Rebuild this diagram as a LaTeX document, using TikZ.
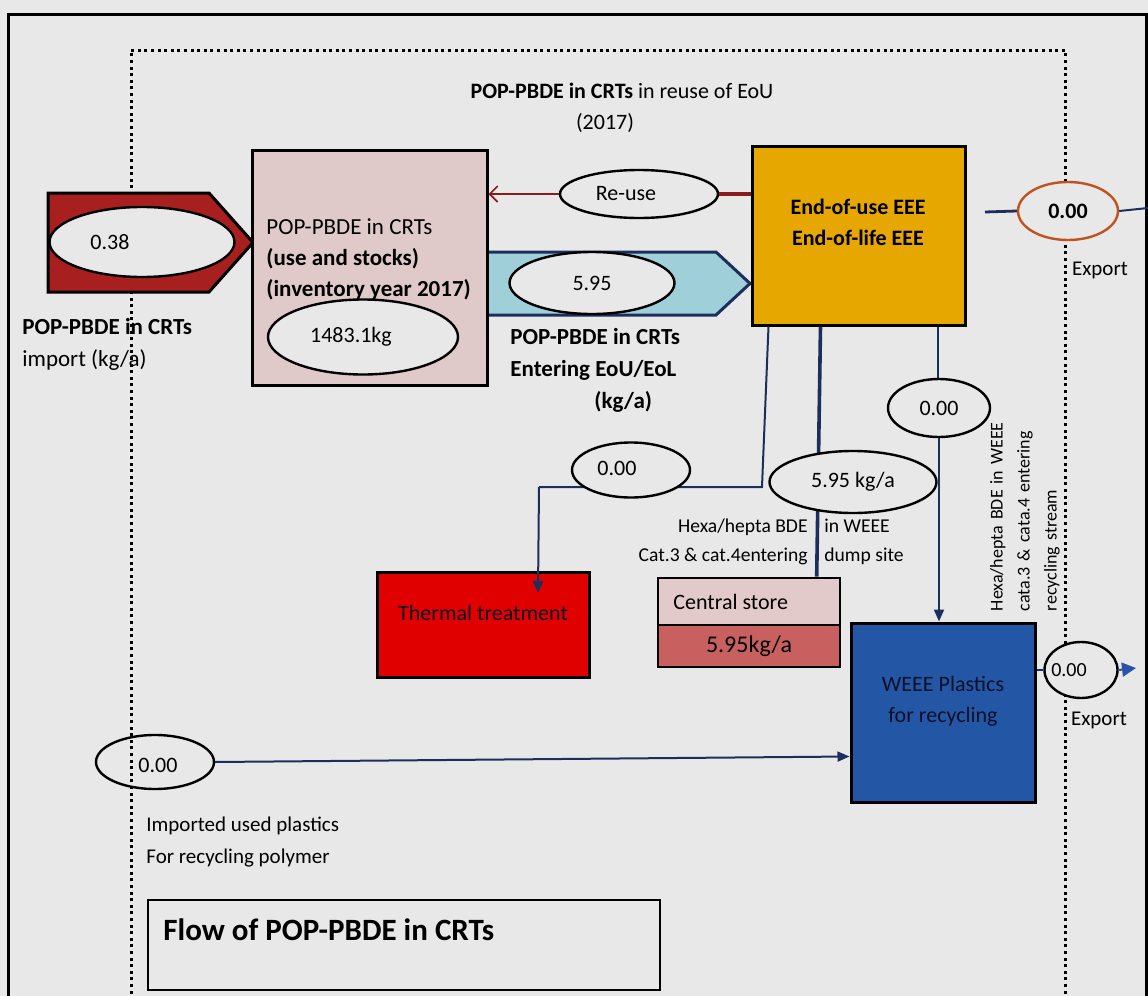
\documentclass[tikz,border=0pt]{standalone}
\usepackage{fontspec}
\setmainfont{Carlito}
\usetikzlibrary{shapes.geometric,arrows.meta,calc}

\definecolor{bggray}{HTML}{E8E8E8}
\definecolor{importred}{HTML}{A81F1F}
\definecolor{stockpink}{HTML}{DFC9C9}
\definecolor{entercyan}{HTML}{9FD0DA}
\definecolor{navy}{HTML}{1C2F5C}
\definecolor{inkdark}{HTML}{0A1028}
\definecolor{eouorange}{HTML}{E6A700}
\definecolor{exportrim}{HTML}{C0521E}
\definecolor{thermred}{HTML}{E10000}
\definecolor{storepink}{HTML}{E2CACA}
\definecolor{storered}{HTML}{C96060}
\definecolor{weeeblue}{HTML}{2456A6}
\definecolor{reusered}{HTML}{8A1C1C}
\definecolor{tipblue}{HTML}{2A52A8}

\tikzset{
  box/.style={draw=black, line width=1.5pt, inner sep=0pt},
  valell/.style={ellipse, draw=black, line width=1.2pt, fill=bggray, inner sep=0pt, font=\fontsize{11}{13}\selectfont},
  lbl/.style={inner sep=0pt, font=\fontsize{11}{15.5}\selectfont},
  smalllbl/.style={inner sep=0pt, font=\fontsize{9.8}{14.5}\selectfont},
  flowline/.style={navy, line width=1pt},
  flowarrow/.style={flowline, -{Triangle[length=6pt,width=5pt]}},
}

\begin{document}
\begin{tikzpicture}[x=0.5pt, y=-0.5pt]
    % page and frames
    \fill[bggray] (0,0) rectangle (1148,996);
    \clip (0,0) rectangle (1148,996);
    \draw[line width=1.5pt] (8,1020) -- (8,14) -- (1146,14) -- (1146,1020);
    \draw[line width=1.5pt, dash pattern=on 1.5pt off 1.8pt] (131,1020) -- (131,50) -- (1065,50) -- (1065,1020);

    % imported plastics (dotted frame shows through)
    \node[ellipse, draw=black, line width=1.2pt, minimum width=59pt, minimum height=27pt, inner sep=0pt] (impplast) at (155,762) {};
    \node[lbl] (impplasttxt) at (158,765) {0.00};
    \node[lbl, anchor=west, align=left, font=\fontsize{10.5}{16}\selectfont] (impplastlbl) at (146,842) {Imported used plastics\\For recycling polymer};

    \node[lbl, align=center] (reusetitle) at (622,108) {\textbf{POP-PBDE in CRTs} in reuse of EoU\\(2017)\hspace*{17pt}};

    % import
    \filldraw[fill=importred, draw=black, line width=1.5pt, line join=miter]
        (48,193) -- (209,193) -- (253,242.5) -- (209,292) -- (48,292) -- cycle;
    \node[valell, minimum width=92.5pt, minimum height=35pt] (importval) at (142,242) {};
    \node[lbl] (importtxt) at (110,242) {0.38};
    \node[lbl, anchor=west, align=left, font=\fontsize{11.5}{16}\selectfont] (importlbl) at (22,344) {\textbf{POP-PBDE in CRTs}\\import (kg/a)};

    % entering EoU/EoL
    \filldraw[fill=entercyan, draw=navy, line width=1.5pt, line join=miter]
        (480,252) -- (716,252) -- (750,283.5) -- (716,315) -- (480,315) -- cycle;

    % use and stocks
    \node[box, fill=stockpink, minimum width=117.5pt, minimum height=117.5pt] (stock) at (369.5,267.5) {};
    \node[lbl, anchor=west, align=left, font=\fontsize{11.5}{15.5}\selectfont] (stocktxt) at (266,259) {POP-PBDE in CRTs\\\textbf{(use and stocks)}\\\textbf{(inventory year 2017)}};
    \node[valell, minimum width=95pt, minimum height=37.5pt] (stockval) at (363,337) {1483.1kg\hspace*{12pt}};

    \node[valell, minimum width=82.5pt, minimum height=31pt] (enterval) at (592,283) {5.95};
    \node[lbl, anchor=west, align=left, font=\bfseries\fontsize{11.5}{16}\selectfont] (enterlbl) at (510,370) {POP-PBDE in CRTs\\Entering EoU/EoL\\\hspace*{42pt}(kg/a)};

    % end of use / end of life
    \node[box, fill=eouorange, minimum width=106.5pt, minimum height=89.5pt] (eou) at (858.5,235.5) {};
    \node[lbl, align=center, font=\bfseries\fontsize{11}{15.5}\selectfont] (eoutxt) at (858,222) {End-of-use EEE\\End-of-life EEE};

    % re-use
    \node[valell, minimum width=79pt, minimum height=24pt] (reuse) at (639,194) {};
    \node[lbl] (reusetxt) at (626,194) {Re-use};
    \draw[reusered, line width=1.6pt] (eou.west |- reuse.east) -- (reuse.east);
    \draw[reusered, line width=0.8pt, -{Straight Barb[length=4pt,width=8pt]}] (reuse.west) -- (stock.east |- reuse.west);

    % export of EoU/EoL
    \coordinate (exptopstart) at (985,212);
    \coordinate (exptopend) at (1148,208);
    \node[valell, draw=exportrim, minimum width=50pt, minimum height=29pt] (exporttop) at (1068,211) {\textbf{0.00}};
    \draw[flowline, line width=1.4pt] (exptopstart) -- (exporttop.west);
    \draw[flowline] (exporttop.east) -- (exptopend);
    \node[lbl, font=\fontsize{10.5}{14}\selectfont] (exporttoplbl) at (1100,270) {Export};

    % thermal treatment and central store
    \node[box, fill=thermred, minimum width=106pt, minimum height=52.5pt] (thermal) at (483,624.5) {};
    \node[lbl, text=inkdark] (thermaltxt) at (483,613) {Thermal treatment};
    \node[box, fill=storepink, line width=1.3pt, minimum width=91pt, minimum height=23.5pt] (store) at (749,601.5) {};
    \node[lbl, anchor=west] (storetxt) at (673,602) {Central store};
    \node[box, fill=storered, line width=1.3pt, minimum width=91pt, minimum height=21pt, font=\fontsize{12}{14}\selectfont] (storeval) at (749,646) {5.95kg/a};

    % WEEE plastics
    \node[box, fill=weeeblue, minimum width=92pt, minimum height=89.5pt] (weee) at (943,712.5) {};
    \node[lbl, align=center, text=inkdark] (weeetxt) at (943,701) {WEEE Plastics\\for recycling};

    % flows out of EoU/EoL (under the value ellipses)
    \coordinate (tbend) at (762,487);
    \coordinate (tcorner) at (539,487);
    \draw[flowline] ($(eou.south west)+(18,0)$) -- (tbend) -- (tcorner);
    \draw[flowarrow] (tcorner) -- ++(-1,106);
    \draw[flowline, line width=1.8pt] ($(eou.south west)+(70,0)$) -- ($(store.north west)+(160,0)$);
    \draw[flowline] ($(eou.south west)+(187,0)$) -- ++(0,80);

    \node[valell, minimum width=59pt, minimum height=27.5pt] (thermval) at (631,470) {};
    \node[lbl] (thermvaltxt) at (617,468) {0.00};
    \node[valell, minimum width=83.5pt, minimum height=31pt] (dumpval) at (853,482) {5.95 kg/a};
    \node[smalllbl, anchor=east, align=right] (dumplblL) at (808,542) {Hexa/hepta BDE\\Cat.3 \& cat.4entering};
    \node[smalllbl, anchor=west, align=left] (dumplblR) at (824,542) {in WEEE\\dump site};

    \node[valell, minimum width=51pt, minimum height=29pt] (recval) at (939,408) {0.00};
    \draw[flowarrow] (recval.south) -- (recval.south |- weee.north);
    \node[inner sep=0pt, rotate=90, text width=107pt, align=left, font=\fontsize{9}{13.5}\selectfont] (rectxt) at (1025,504)
        {\makebox[\linewidth][s]{Hexa/hepta BDE in WEEE}\\\makebox[\linewidth][s]{cata.3 \& cata.4 entering}\\recycling stream};

    % export of WEEE plastics
    \node[valell, minimum width=36.5pt, minimum height=28pt] (exportbot) at (1081,670) {};
    \node[lbl, font=\fontsize{10}{12}\selectfont] (exportbottxt) at (1069,670) {0.00};
    \coordinate (expbotend) at (1136,668);
    \draw[flowline] (weee.east |- exportbot.west) -- (exportbot.west);
    \draw[tipblue, line width=1pt, -{Triangle[length=7pt,width=7pt]}] (exportbot.east) -- (expbotend);
    \node[lbl, font=\fontsize{10.5}{14}\selectfont] (exportbotlbl) at (1099,720) {Export};

    % imported plastics into recycling
    \draw[flowarrow] (impplast.east) -- ($(weee.south west)+(0,-47)$);

    % legend
    \node[draw=black, line width=1pt, minimum width=256pt, minimum height=45pt, inner sep=0pt] (legend) at (404,945) {};
    \node[lbl, anchor=west, font=\bfseries\fontsize{15.5}{18}\selectfont] (legendtxt) at (163,930) {Flow of POP-PBDE in CRTs};
\end{tikzpicture}
\end{document}
